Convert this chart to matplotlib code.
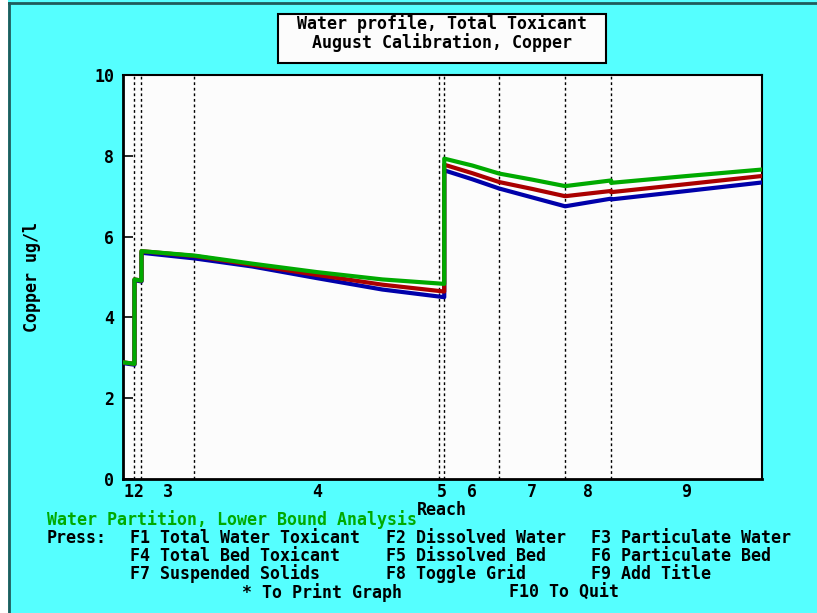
#!/usr/bin/env python3
"""Water profile plot, total toxicant, copper - DOS style screen."""

import matplotlib
matplotlib.use("Agg")
import matplotlib.pyplot as plt
from matplotlib.patches import Rectangle
from matplotlib.lines import Line2D
import numpy as np

W, H = 817, 613

# reach boundaries along the river (km) and reach names
reach_edges = [0.0, 1.2, 1.9, 7.2, 31.7, 32.2, 37.7, 44.3, 48.9, 64.0]
reach_names = ["1", "2", "3", "4", "5", "6", "7", "8", "9"]

# profile points (km) - repeated x means a step at a reach boundary
dist_km = [0.0, 1.2, 1.2, 1.9, 1.9, 7.2, 13.0, 19.5, 26.0, 32.2, 32.2,
           35.0, 37.7, 41.0, 44.3, 48.9, 48.9, 56.5, 64.0]

green_vals = [2.89, 2.85, 4.94, 4.91, 5.64, 5.53, 5.33, 5.12, 4.94, 4.83, 7.93,
              7.76, 7.56, 7.41, 7.25, 7.39, 7.33, 7.50, 7.66]
red_vals = [2.89, 2.85, 4.94, 4.91, 5.64, 5.52, 5.30, 5.05, 4.81, 4.64, 7.78,
            7.57, 7.35, 7.18, 7.00, 7.13, 7.10, 7.30, 7.50]
blue_vals = [2.87, 2.83, 4.92, 4.89, 5.60, 5.46, 5.26, 4.97, 4.69, 4.50, 7.64,
             7.42, 7.19, 6.97, 6.75, 6.94, 6.92, 7.13, 7.34]

y_ticks = [0, 2, 4, 6, 8, 10]

CYAN = "#55FFFF"
GREEN = "#00AA00"
RED = "#AA0000"
BLUE = "#0000AA"
FONT = dict(family="DejaVu Sans Mono", fontweight="bold", fontsize=12)


def fx(x):
    return x / W


def fy(y):
    return 1 - y / H


fig = plt.figure(figsize=(W / 100, H / 100), dpi=100)
fig.patch.set_facecolor(CYAN)

# white strip + dark frame on the left and top, like the screen capture
fig.patches.append(Rectangle((0, 0), fx(8), 1, transform=fig.transFigure,
                             facecolor="white", edgecolor="none", zorder=0))
fig.lines.append(Line2D([fx(9), fx(9)], [0, fy(3)], transform=fig.transFigure,
                        color="#1f5c5c", lw=2))
fig.lines.append(Line2D([fx(9), 1], [fy(3), fy(3)], transform=fig.transFigure,
                        color="#1f5c5c", lw=2))

ax = fig.add_axes([fx(122.5), fy(479), (762 - 122.5) / W, (479 - 75) / H])
ax.set_zorder(5)
ax.set_facecolor("#FCFCFC")

# reach boundaries
for xb in reach_edges[1:-1]:
    ax.axvline(xb, color="black", lw=1, linestyle=(0, (2, 2)), zorder=1)

ax.plot(dist_km, blue_vals, color=BLUE, lw=3, zorder=3)
ax.plot(dist_km, red_vals, color=RED, lw=3, zorder=4)
ax.plot(dist_km, green_vals, color=GREEN, lw=3, zorder=5)

ax.set_xlim(reach_edges[0], reach_edges[-1])
ax.set_ylim(0, 10)

centers = (np.array(reach_edges[:-1]) + np.array(reach_edges[1:])) / 2
ax.set_xticks(centers)
ax.set_xticklabels(reach_names, **FONT)
ax.tick_params(axis="x", length=0, pad=3)
ax.set_yticks(y_ticks)
ax.set_yticklabels([str(v) for v in y_ticks], **FONT)
ax.tick_params(axis="y", direction="in", length=7, width=1.2, pad=6)

for side in ["left", "bottom"]:
    ax.spines[side].set_linewidth(2)
for side in ["top", "right"]:
    ax.spines[side].set_linewidth(1.5)

ax.set_ylabel("Copper ug/l", labelpad=38, **FONT)

# title box
fig.patches.append(Rectangle((fx(278), fy(63)), 328 / W, 49 / H,
                             transform=fig.transFigure, facecolor="#FCFCFC",
                             edgecolor="black", lw=1.5, zorder=2))
fig.text(fx(442), fy(24), "Water profile, Total Toxicant", ha="center",
         va="center", **FONT)
fig.text(fx(442), fy(43), "August Calibration, Copper", ha="center",
         va="center", **FONT)

fig.text(fx(442), fy(510), "Reach", ha="center", va="center", **FONT)
fig.text(fx(47), fy(520), "Water Partition, Lower Bound Analysis",
         ha="left", va="center", color=GREEN, **FONT)

menu = [
    (47, 538, "Press:"),
    (130, 538, "F1 Total Water Toxicant"),
    (386, 538, "F2 Dissolved Water"),
    (591, 538, "F3 Particulate Water"),
    (130, 556, "F4 Total Bed Toxicant"),
    (386, 556, "F5 Dissolved Bed"),
    (591, 556, "F6 Particulate Bed"),
    (130, 574, "F7 Suspended Solids"),
    (386, 574, "F8 Toggle Grid"),
    (591, 574, "F9 Add Title"),
    (242, 593, "* To Print Graph"),
    (509, 593, "F10 To Quit"),
]
for x, y, s in menu:
    fig.text(fx(x), fy(y), s, ha="left", va="center", **FONT)

fig.savefig("out.png", dpi=100, facecolor=fig.get_facecolor())
